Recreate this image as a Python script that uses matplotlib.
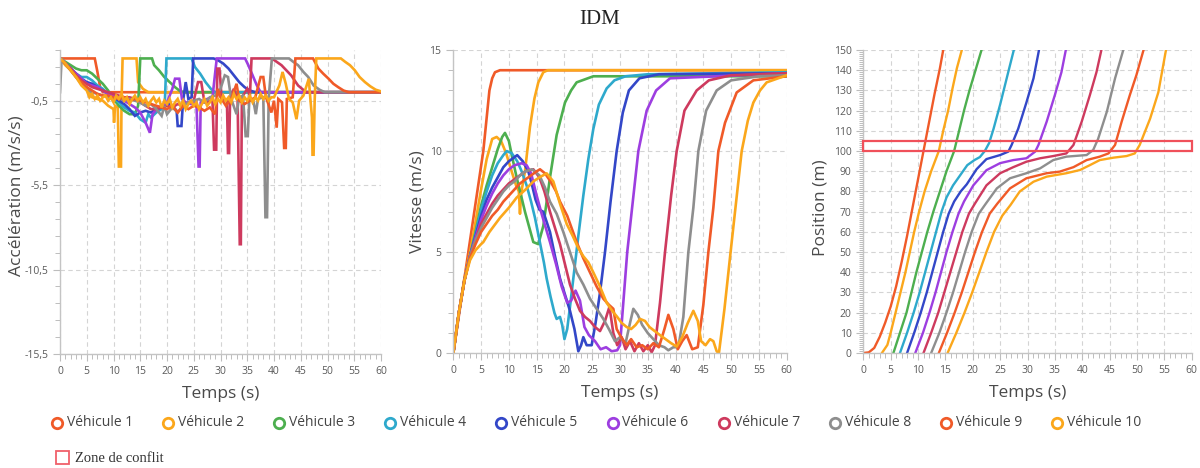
import matplotlib
matplotlib.use("Agg")
import matplotlib.pyplot as plt
from matplotlib.ticker import MultipleLocator, FuncFormatter
from matplotlib.patches import Rectangle

plt.rcParams['font.family'] = ['Open Sans', 'DejaVu Sans']

# ---------------- data ----------------
vehicles = ["Véhicule 1", "Véhicule 2", "Véhicule 3", "Véhicule 4", "Véhicule 5",
            "Véhicule 6", "Véhicule 7", "Véhicule 8", "Véhicule 9", "Véhicule 10"]
colors = ['#F05A28', '#FBA71B', '#4DAF4F', '#2EA9CC', '#3347C8',
          '#9D3EE0', '#CE3A5E', '#8E8E8E', '#F05A28', '#FBA71B']

# Acceleration (m/s/s)
acc_t1 = [0, 6.5, 7.0, 7.5, 8.0, 60]
acc_a1 = [2, 2, 1.2, 0.3, 0, 0]
acc_t2 = [0, 1, 2, 3, 4, 5, 6, 7, 8, 9, 10, 10.1, 10.3, 10.8, 11.0, 11.4, 11.5, 11.7, 14.3, 14.6, 15.5, 16.5, 60]
acc_a2 = [2, 1.6, 1.3, 0.9, 0.5, 0.3, -0.3, -0.4, -0.5, -0.8, -1.0, -1.8, -0.8, -0.9, -4.4, -4.4, -0.5, 2, 2, 0.6, 0.2, 0, 0]
acc_t3 = [0, 1, 2, 3, 4, 5, 6, 7, 8, 9, 10, 11, 12, 13, 14, 14.6, 15, 17.2, 17.6, 18.5, 19.5, 20.5, 21.5, 22.5, 23.5, 60]
acc_a3 = [2, 1.8, 1.6, 1.4, 1.3, 1.3, 1.1, 0.8, 0.5, 0.1, -0.4, -0.8, -1.1, -1.3, -1.3, -0.8, 2, 2, 1.6, 1.3, 0.9, 0.6, 0.3, 0.05, 0, 0]
acc_t4 = [0, 1, 2, 3, 4, 5, 6, 7, 8, 9, 10, 11, 12, 13, 14, 15, 16, 16.5, 17, 18, 19, 19.6, 19.9, 24.6, 25.2, 26.2, 27.2, 28.2, 29, 60]
acc_a4 = [2, 1.7, 1.4, 1.1, 0.9, 0.9, 0.7, 0.4, 0.2, -0.1, -0.3, -0.6, -0.9, -1.1, -1.2, -1.6, -1.8, -1.3, -1.5, -1.2, -1.0, -0.6, 2, 2, 1.5, 1.1, 0.6, 0.2, 0, 0]
acc_t5 = [0, 1, 2, 3, 4, 5, 6, 7, 8, 9, 10, 11, 12, 13, 14, 15, 16, 17, 18, 19, 20, 21, 21.8, 22.0, 22.7, 23.0, 23.5, 24, 24.6, 24.9,
          28.7, 29.5, 30.5, 31.5, 32.5, 33.5, 34.5, 35.5, 36.5, 60]
acc_a5 = [2, 1.7, 1.4, 1.1, 0.8, 0.6, 0.5, 0.3, 0.1, -0.1, -0.3, -0.5, -0.7, -1.0, -1.4, -1.2, -1.1, -1.2, -1.0, -0.9, -0.6, -0.8, -1.1, -2.0, -2.0, -0.5, 0.6, -0.4, -0.3, 2,
          2, 1.9, 1.7, 1.4, 1.0, 0.6, 0.3, 0.1, 0, 0]
acc_t6 = [0, 1, 2, 3, 4, 5, 6, 7, 8, 9, 10, 11, 12, 13, 14, 15, 16, 16.8, 17.3, 18, 19, 20, 21, 21.5, 22.3, 22.8, 23.5, 24.5, 25.5,
          25.9, 26.1, 26.3, 27.5, 28.5, 29.3, 34.6, 35.2, 36, 36.8, 37.5, 60]
acc_a6 = [2, 1.7, 1.4, 1.1, 0.8, 0.5, 0.4, 0.3, 0.1, -0.1, -0.2, -0.3, -0.5, -0.7, -0.9, -1.2, -1.8, -2.4, -1.3, -1.0, -0.8, -0.6, 0.2, 0.8, 0.8, -0.4, -0.6, -0.7, -0.6,
          -4.4, -4.4, -0.6, -0.4, -0.3, 2, 2, 1.6, 1.0, 0.4, 0, 0]
acc_t7 = [0, 1, 2, 3, 4, 5, 6, 7, 8, 9, 10, 11, 12, 13, 14, 15, 16, 17, 18, 19, 20, 21, 22, 23, 24, 25, 25.8, 26.4, 27, 28.5,
          28.8, 29.2, 29.4, 29.8, 30.2, 31.2, 31.4, 31.6, 31.8, 32.5, 33.2, 33.6, 33.8, 34.0, 35.0, 35.5, 35.8, 39.6,
          40.5, 41.4, 42.3, 43.2, 44.5, 46, 60]
acc_a7 = [2, 1.7, 1.4, 1.0, 0.7, 0.5, 0.3, 0.2, 0.1, 0.0, -0.1, -0.2, -0.3, -0.3, -0.4, -0.6, -0.8, -1.0, -1.0, -0.9, -0.8, -0.9, -0.7, -0.8, -0.6, -0.5, 0.6, 0.6, -0.6, -0.5,
          -3.4, -3.4, 1.4, 1.4, -0.3, -0.5, -3.6, -3.6, -0.3, 0.2, -0.5, -9.0, -9.0, -0.3, 0.2, -0.2, 2, 2,
          1.8, 1.6, 1.3, 1.0, 0.4, 0, 0]
acc_t8 = [0, 0.3, 1, 2, 3, 4, 5, 6, 7, 8, 9, 10, 11, 12, 13, 14, 15, 16, 17, 18, 19, 19.5, 20, 21, 22, 23, 24, 25, 26, 27, 28, 29, 30,
          30.8, 31.4, 32, 33, 33.5, 34.2, 34.7, 35.1, 35.4, 36.2, 36.6, 37, 38.0, 38.4, 38.7, 39.0, 39.6, 42.8,
          43.6, 44.5, 45.5, 46.4, 47.4, 48.5, 49.5, 60]
acc_a8 = [0, 2, 1.7, 1.3, 0.9, 0.5, 0.2, 0.0, -0.1, -0.2, -0.3, -0.4, -0.3, -0.5, -0.4, -0.5, -0.6, -0.8, -0.7, -1.0, -1.4, -0.8, -1.3, -0.9, -1.2, -0.8, -0.6, -0.5, -0.4, -0.6, -0.3, -0.2, 0.2,
          1.0, 0.9, -0.4, -1.3, -0.3, -0.2, -2.6, -2.6, -0.3, -0.6, -1.3, -0.4, -0.3, -7.4, -7.4, -0.4, 2, 2,
          1.8, 1.6, 1.2, 0.9, 0.4, 0.15, 0, 0]
acc_t9 = [0, 1, 2, 3, 4, 5, 6, 7, 8, 9, 10, 11, 12, 13, 14, 15, 16, 17, 18, 19, 20, 21, 22, 23, 24, 25, 26, 27, 28, 29, 29.5, 30,
          31, 32, 33, 33.5, 34.5, 35.5, 36.5, 37.5, 38, 38.5, 39.5, 40.0, 40.5, 40.8, 41.5, 41.9, 42.2, 42.4, 43.5,
          44, 47.3, 48.3, 49.2, 50.2, 51.1, 52, 53, 54, 60]
acc_a9 = [2, 1.7, 1.3, 0.9, 0.6, 0.3, 0.1, -0.1, -0.2, -0.2, -0.3, -0.4, -0.3, -0.5, -0.4, -0.5, -0.6, -0.7, -0.8, -0.9, -1.0, -0.8, -1.2, -0.8, -1.0, -0.8, -0.9, -1.1, -0.9, -1.3, 0.2, -0.3,
          -0.8, -0.4, 0.5, -0.5, -0.7, -0.5, -0.3, 0.9, 0.9, -0.3, -1.2, -0.5, -2.1, -0.4, -0.6, -3.3, -3.3, -0.4, -0.3,
          2, 2, 1.4, 1.1, 0.8, 0.5, 0.3, 0.1, 0, 0]
acc_t10 = [0, 1, 2, 3, 4,
           5, 5.5, 6, 6.5, 7, 7.5, 8, 8.5, 9, 9.5, 10, 10.5, 11, 11.5, 12, 12.5, 13, 13.5, 14, 14.5,
           15, 15.5, 16, 16.5, 17, 17.5, 18, 18.5, 19, 19.5, 20, 20.5, 21, 21.5, 22, 22.5, 23, 23.5, 24, 24.5,
           25, 25.5, 26, 26.5, 27, 27.5, 28, 28.5, 29, 29.5, 30, 30.5, 31, 31.5, 32, 32.5, 33, 33.5, 34, 34.5,
           35, 35.5, 36, 36.5, 37, 37.5, 38, 38.5, 39, 39.5, 40,
           41, 41.6, 42.2, 42.8, 43.5, 44.2, 44.7, 45.5, 46.5, 46.8, 47.1,
           47.2, 47.4, 47.6, 47.9, 52.5, 53.3, 54.2, 55.1, 56, 57, 58, 59, 60]
acc_a10 = [2, 1.7, 1.3, 0.9, 0.4,
           0.1, -0.3, -0.1, -0.4, -0.2, -0.5, -0.3, -0.2, -0.5, -0.3, -0.6, -0.2, -0.4, -0.1, -0.5, -0.3, -0.7, -0.4, -0.2, -0.5,
           -0.3, -0.6, -0.4, -0.8, -0.5, -0.3, -0.6, -0.4, -0.9, -0.5, -0.7, -0.4, -0.9, -0.6, -0.4, -0.8, -0.5, -1.0, -0.7, -0.5,
           -0.8, -0.6, -1.0, -0.7, -0.4, -0.8, -0.6, -0.3, -0.7, -0.4, -0.6, -0.2, -0.5, -0.3, -0.6, -0.1, -0.4, -0.2, -0.6, -0.3,
           -0.5, -0.2, -0.6, -0.3, -0.5, -0.1, -0.4, -0.2, -0.5, -0.3, -0.3,
           0.4, 1.2, 0.5, -0.4, -0.6, -1.6, -0.5, -0.2, 0.8, -0.4, -1.5,
           -3.7, -3.7, -0.5, 2, 2, 1.8, 1.6, 1.3, 0.9, 0.6, 0.35, 0.15, 0.05]

# Speed (m/s)
vit_t1 = [0, 2.7, 5.4, 6.5, 7.0, 7.5, 8.4, 60]
vit_v1 = [0, 5.0, 10.0, 13.0, 13.6, 13.9, 14.0, 14.0]
vit_t2 = [0, 1, 2, 3, 4, 5, 6, 7, 7.8, 8.6, 9.5, 10.5, 11.3, 11.8, 12.0, 12.2, 12.9, 13.8, 14.6, 15.3, 16.2, 17.0, 60]
vit_v2 = [0, 2.0, 3.7, 5.0, 6.5, 8.1, 9.6, 10.6, 10.7, 10.5, 9.9, 9.0, 8.3, 8.0, 6.9, 7.9, 9.0, 11.2, 12.6, 13.4, 13.9, 14.0, 14.0]
vit_t3 = [0, 1, 2, 3, 4, 5, 6, 7, 8, 8.8, 9.3, 10.0, 10.6, 11.4, 12.2, 12.9, 13.7, 14.4, 15.3, 16.2, 17.4, 18.6, 20.1, 21.2, 22.2, 25.2, 60]
vit_v3 = [0, 2.0, 3.6, 4.8, 6.0, 7.3, 8.3, 9.2, 10.1, 10.7, 10.9, 10.5, 9.7, 8.7, 7.8, 7.0, 6.2, 5.5, 5.4, 6.3, 8.7, 10.8, 12.4, 13.0, 13.4, 13.7, 13.7]
vit_t4 = [0, 1, 2, 3, 4, 5, 6, 7, 8, 9, 9.6, 10.5, 11.5, 12.3, 13.2, 14.0, 14.7, 15.5, 16.3, 16.8, 17.5, 18.2, 18.6, 19.2, 19.6,
          20.0, 20.5, 21.0, 21.6, 22.5, 23.4, 24.3, 25.2, 26.2, 27.6, 29, 31, 35, 60]
vit_v4 = [0, 2.0, 3.6, 4.8, 5.9, 7.1, 8.0, 8.8, 9.4, 9.8, 10.0, 9.9, 9.5, 9.0, 8.3, 7.5, 6.7, 5.6, 4.5, 3.7, 2.8, 2.0, 1.7, 1.8, 1.4,
          0.7, 1.2, 2.3, 3.7, 5.8, 7.8, 9.6, 11.1, 12.3, 13.1, 13.5, 13.7, 13.8, 13.9]
vit_t5 = [0, 1, 2, 3, 4, 5, 6, 7, 8, 9, 10, 11, 11.5, 12.5, 13.5, 14.1, 14.8, 15.5, 16.2, 17.4, 18.3, 19.2, 20.1, 21.0, 21.8, 22.5,
          23.0, 23.4, 24.0, 24.9, 25.6, 26.4, 27.3, 28.3, 29.4, 30.5, 31.6, 33.5, 37, 60]
vit_v5 = [0, 2.0, 3.6, 4.8, 5.8, 6.8, 7.6, 8.2, 8.7, 9.2, 9.5, 9.7, 9.8, 9.5, 9.0, 8.4, 7.6, 7.1, 7.0, 6.0, 4.8, 3.7, 2.9, 2.1, 1.2, 0.1,
          0.4, 0.8, 0.4, 0.4, 1.5, 3.0, 5.0, 7.5, 10.0, 11.9, 13.0, 13.6, 13.8, 13.85]
vit_t6 = [0, 1, 2, 3, 4, 5, 6, 7, 8, 9, 10, 11, 12.3, 13.2, 14.0, 15.0, 16.0, 17.4, 18.5, 19.5, 20.5, 21.2, 22.0, 22.8, 23.6, 24.4,
          25.5, 26.5, 27.5, 28.5, 29.5, 30.0, 31.3, 33.3, 34.8, 36.5, 39, 60]
vit_v6 = [0, 2.0, 3.6, 4.8, 5.7, 6.6, 7.3, 7.9, 8.4, 8.8, 9.1, 9.3, 9.4, 9.3, 8.9, 7.8, 6.8, 5.5, 4.4, 3.3, 2.5, 2.6, 3.1, 2.6, 1.3, 0.9,
          0.6, 0.2, 0.3, 0.1, 0.15, 0.4, 5.0, 10.0, 12.0, 13.0, 13.6, 13.85]
vit_t7 = [0, 1, 2, 3, 4, 5, 6, 7, 8, 9, 10, 11, 12, 13, 14.4, 15.5, 16.4, 17.4, 18.3, 19.2, 20.1, 21.0, 21.9, 22.8, 23.7, 24.6,
          25.5, 26.4, 27.3, 28.1, 28.8, 29.5, 30.3, 31.0, 31.8, 32.6, 33.4, 34.2, 35.0, 35.7, 36.3, 37.2, 38.1, 39.2,
          40.2, 41.6, 43.8, 46, 50, 60]
vit_v7 = [0, 2.0, 3.6, 4.8, 5.6, 6.4, 6.9, 7.4, 7.8, 8.1, 8.4, 8.6, 8.8, 9.0, 9.1, 8.7, 8.0, 7.0, 6.2, 5.4, 4.4, 3.4, 2.7, 2.1, 1.8, 1.6,
          1.3, 1.1, 1.6, 2.3, 1.0, 0.4, 0.8, 0.2, 0.6, 0.1, 0.5, 0.1, 0.4, 0.05, 0.4, 2.5, 5.0, 7.8,
          10.0, 12.0, 13.0, 13.5, 13.75, 13.85]
vit_t8 = [0, 1, 2, 3, 4, 5, 6, 7, 8, 9, 10, 11, 12, 13, 14.2, 15.5, 16.5, 17.4, 18.6, 19.8, 21.0, 22.2, 23.4, 24.6, 25.8, 27.0,
          28.0, 29.1, 30.0, 31.0, 31.8, 32.4, 33.2, 34.0, 35.0, 36.0, 37.0, 38.0, 38.7, 39.6, 40.5, 41.4, 42.3, 43.2,
          44.1, 45.5, 47.4, 50, 55, 60]
vit_v8 = [0, 2.0, 3.6, 4.8, 5.6, 6.2, 6.7, 7.2, 7.6, 8.0, 8.3, 8.5, 8.8, 9.0, 9.1, 8.8, 8.2, 7.5, 6.9, 6.0, 5.0, 4.0, 3.4, 2.7, 2.2, 1.7,
          1.2, 0.6, 0.8, 0.5, 1.5, 2.2, 1.9, 1.4, 1.0, 0.7, 0.4, 0.3, 0.15, 0.3, 0.3, 1.8, 5.0, 7.2,
          10.0, 12.0, 13.0, 13.5, 13.7, 13.75]
vit_t9 = [0, 1, 2, 3, 4, 5, 6, 7, 8, 9, 10, 11, 12, 13, 14, 15, 15.6, 16.5, 17.5, 18.5, 19.2, 20.5, 22.2, 23.4, 24.6, 25.8, 27.0,
          28.0, 28.8, 29.4, 30.2, 31.2, 32.0, 33.0, 34.0, 35.0, 36.0, 37.0, 38.0, 38.7, 39.6, 40.4, 41.2, 42.0, 43.0,
          44.0, 45.0, 45.9, 46.8, 47.7, 48.9, 51, 54, 60]
vit_v9 = [0, 2.0, 3.6, 4.7, 5.4, 6.0, 6.4, 6.8, 7.1, 7.5, 7.8, 8.1, 8.4, 8.6, 8.8, 9.0, 9.1, 8.9, 8.5, 8.0, 7.5, 6.8, 5.5, 4.7, 4.0, 3.3, 2.7,
          2.4, 2.2, 1.2, 0.8, 0.4, 0.7, 0.3, 0.4, 0.2, 0.5, 0.3, 1.2, 1.9, 1.2, 0.2, 0.6, 0.9, 0.2,
          0.3, 2.4, 5.0, 7.2, 10.0, 11.4, 12.9, 13.5, 13.7]
vit_t10 = [0, 1, 2, 3, 4, 5, 5.4, 6.5, 8.4, 10, 11.4, 13, 14.4, 15.5, 16.8, 18, 19.2, 20.4, 21.5, 22.5, 23.4, 24.3, 25.2, 26.4,
           27.6, 28.6, 29.5, 30.3, 31.2, 32.0, 32.8, 33.6, 34.5, 35.3, 36.0, 37.2, 38.4, 39.2, 40.2, 41.2, 42.2, 43.2,
           44.0, 44.6, 45.4, 46.2, 46.8, 47.4, 47.8, 48.8, 49.9, 50.9, 51.9, 53, 54, 55.2, 56.4, 60]
vit_v10 = [0, 2.0, 3.6, 4.6, 5.1, 5.4, 5.5, 6.0, 6.7, 7.2, 7.7, 8.1, 8.5, 8.7, 8.9, 8.5, 7.4, 6.4, 5.8, 5.2, 4.8, 4.5, 4.0, 3.3,
           2.5, 2.1, 1.8, 1.5, 1.3, 1.2, 1.4, 1.7, 1.6, 1.3, 1.15, 0.9, 0.66, 0.5, 0.33, 0.8, 1.5, 2.1,
           1.6, 0.6, 0.4, 0.7, 0.6, 0.1, 0.0, 2.2, 5.0, 7.5, 10.0, 11.5, 12.4, 13.0, 13.4, 13.75]

# Position (m)
pos_t1 = [0, 1.0, 2.0, 3.0, 4.0, 5.0, 6.0, 7.0, 8.0, 9.0, 10.0, 11.0, 12.0, 13.0, 14.0, 14.6]
pos_x1 = [0, 0.3, 2.5, 8, 15, 23, 33, 45, 58, 72, 86, 100, 114, 128, 141, 150]
pos_t2 = [3.4, 4.4, 5.0, 5.9, 6.8, 7.7, 8.5, 9.3, 10.2, 11.2, 12.4, 13.8, 14.6, 15.5, 16.3, 17.1, 18.0]
pos_x2 = [0, 4, 10, 20, 30, 40, 50, 60, 70, 80, 90, 100, 110, 120, 131, 141, 150]
pos_t3 = [5.5, 6.7, 7.9, 8.8, 9.7, 10.7, 11.7, 12.8, 14.0, 15.2, 16.6, 17.5, 18.4, 19.4, 20.5, 21.6]
pos_x3 = [0, 10, 20, 30, 40, 50, 60, 70, 80, 90, 100, 110, 120, 130, 140, 150]
pos_t4 = [6.7, 8.0, 9.2, 10.3, 11.3, 12.3, 13.3, 14.3, 15.2, 16.4, 17.7, 19.0, 20.3, 21.3, 22.2, 23.0, 23.8, 25.0, 26.2, 27.5]
pos_x4 = [0, 10, 20, 30, 40, 50, 60, 70, 77, 83, 88, 93, 95.5, 97, 100, 104, 111, 123, 136, 150]
pos_t5 = [8.0, 9.3, 10.5, 11.6, 12.6, 13.6, 14.6, 15.6, 16.6, 17.8, 18.9, 20.7, 22.5, 25.0, 26.5, 27.1, 28.3, 29.8, 31.1, 32.1]
pos_x5 = [0, 10, 20, 30, 40, 50, 60, 69, 75, 80, 83.5, 91, 96, 98, 99.7, 103, 111, 124, 136, 150]
pos_t6 = [9.5, 10.9, 12.1, 13.2, 14.2, 15.2, 16.3, 17.4, 18.4, 20.1, 22.5, 25.0, 27.4, 29.8, 31.4, 32.0, 33.5, 35.0, 36.2, 37.0]
pos_x6 = [0, 10, 20, 30, 40, 50, 60, 69, 75, 83, 90.5, 94, 95.5, 96.4, 99.7, 103, 114.5, 127.7, 139, 150]
pos_t7 = [11.0, 12.4, 13.7, 14.8, 15.9, 17.0, 18.1, 19.3, 20.4, 22.5, 25.0, 27.4, 29.8, 32.3, 34.7, 37.1, 38.4, 39.9, 41.4, 42.6, 43.5]
pos_x7 = [0, 10, 20, 30, 40, 50, 60, 69, 74, 83, 89, 92, 94.7, 96.4, 97.5, 98.8, 103, 114.5, 127.7, 139, 150]
pos_t8 = [12.4, 13.9, 15.2, 16.4, 17.5, 18.6, 19.8, 21.1, 22.4, 24.4, 26.8, 29.8, 32.3, 34.7, 37.1, 40.8, 42.0, 42.9, 44.5, 46.0, 47.5]
pos_x8 = [0, 10, 20, 30, 40, 50, 60, 69, 74, 81.5, 86.5, 89, 91.4, 95.5, 97.2, 98, 100.5, 106, 119.5, 136, 150]
pos_t9 = [13.8, 15.3, 16.7, 18.0, 19.2, 20.4, 21.7, 23.1, 24.5, 26.8, 29.8, 33.5, 35.9, 38.4, 40.8, 43.2, 44.8, 46.0, 47.2, 48.7, 49.9, 51.2]
pos_x9 = [0, 10, 20, 30, 40, 50, 60, 69, 74, 81.5, 86.5, 89, 89.8, 92, 95.5, 97.2, 98.8, 103, 114.5, 127.7, 137.6, 150]
pos_t10 = [15.4, 17.0, 18.5, 19.9, 21.2, 22.5, 23.9, 25.4, 26.9, 28.6, 31.1, 33.5, 37.1, 39.6, 41.4, 43.2, 45.7, 48.1, 49.6, 50.5, 52.4, 53.9, 55.3]
pos_x10 = [0, 10, 20, 30, 40, 50, 60, 68, 73.3, 80, 84.8, 87.3, 89, 90.6, 93, 95.5, 96.7, 97.5, 98.8, 103, 116, 129, 150]

zone_start, zone_end = 100, 105

acc_series = [(acc_t1, acc_a1), (acc_t2, acc_a2), (acc_t3, acc_a3), (acc_t4, acc_a4), (acc_t5, acc_a5),
              (acc_t6, acc_a6), (acc_t7, acc_a7), (acc_t8, acc_a8), (acc_t9, acc_a9), (acc_t10, acc_a10)]
vit_series = [(vit_t1, vit_v1), (vit_t2, vit_v2), (vit_t3, vit_v3), (vit_t4, vit_v4), (vit_t5, vit_v5),
              (vit_t6, vit_v6), (vit_t7, vit_v7), (vit_t8, vit_v8), (vit_t9, vit_v9), (vit_t10, vit_v10)]
pos_series = [(pos_t1, pos_x1), (pos_t2, pos_x2), (pos_t3, pos_x3), (pos_t4, pos_x4), (pos_t5, pos_x5),
              (pos_t6, pos_x6), (pos_t7, pos_x7), (pos_t8, pos_x8), (pos_t9, pos_x9), (pos_t10, pos_x10)]

# ---------------- figure ----------------
W, H = 1200, 468
fig = plt.figure(figsize=(W / 100, H / 100), dpi=100)

legax = fig.add_axes([0, 0, 1, 1])
legax.set_xlim(0, W)
legax.set_ylim(H, 0)
legax.axis('off')

ax1 = fig.add_axes([60 / W, 1 - 354 / H, 321 / W, 304 / H])
ax2 = fig.add_axes([453.3 / W, 1 - 353.3 / H, 333.4 / W, 303.3 / H])
ax3 = fig.add_axes([863.3 / W, 1 - 353 / H, 328.4 / W, 303 / H])

grid_kw = dict(color='#d4d4d4', linestyle=(0, (4, 3)), linewidth=0.8)
label_color = '#4a4a4a'
tick_color = '#5a5a5a'
LW = 1.9

for ax in (ax1, ax2, ax3):
    ax.set_xlim(0, 60)
    ax.xaxis.set_major_locator(MultipleLocator(5))
    ax.xaxis.set_minor_locator(MultipleLocator(1))
    for s in ('top', 'right'):
        ax.spines[s].set_visible(False)
    for s in ('left', 'bottom'):
        ax.spines[s].set_color('#c4c4c4')
        ax.spines[s].set_linewidth(1.0)
    ax.tick_params(which='both', colors='#bdbdbd', labelcolor=tick_color, labelsize=7.5, direction='out')
    ax.tick_params(which='major', length=5, width=0.8)
    ax.tick_params(which='minor', length=3.5, width=0.7)
    ax.grid(True, which='major', **grid_kw)
    ax.set_axisbelow(True)
    ax.set_xlabel('Temps (s)', fontsize=12.5, color=label_color)
    ax.xaxis.set_label_coords(0.5, -0.105)

# Acceleration
for (t, a), c in zip(acc_series, colors):
    ax1.plot(t, a, color=c, lw=LW, solid_joinstyle='miter')
ax1.set_ylim(-15.5, 2.5)
ax1.set_yticks([-15.5, -10.5, -5.5, -0.5])
ax1.yaxis.set_minor_locator(MultipleLocator(1, offset=0.5))
ax1.yaxis.set_major_formatter(FuncFormatter(lambda v, p: f"{v:.1f}".replace('.', ',')))
ax1.set_ylabel('Accélération (m/s/s)', fontsize=12.5, color=label_color)
ax1.yaxis.set_label_coords(-0.11, 0.52)

# Speed
for (t, v), c in zip(vit_series, colors):
    ax2.plot(t, v, color=c, lw=LW)
ax2.set_ylim(0, 15)
ax2.yaxis.set_major_locator(MultipleLocator(5))
ax2.yaxis.set_minor_locator(MultipleLocator(1))
ax2.set_ylabel('Vitesse (m/s)', fontsize=12.5, color=label_color)
ax2.yaxis.set_label_coords(-0.082, 0.5)

# Position
for (t, x), c in zip(pos_series, colors):
    ax3.plot(t, x, color=c, lw=LW - 0.2)
ax3.add_patch(Rectangle((0, zone_start), 60, zone_end - zone_start, fill=False,
                        edgecolor='#F0505A', linewidth=1.6, zorder=5, clip_on=False))
ax3.set_ylim(0, 150)
ax3.yaxis.set_major_locator(MultipleLocator(10))
ax3.yaxis.set_minor_locator(MultipleLocator(1))
ax3.tick_params(axis='y', which='minor', length=3)
ax3.set_ylabel('Position (m)', fontsize=12.5, color=label_color)
ax3.yaxis.set_label_coords(-0.105, 0.48)

# Title
fig.text(0.5, 1 - 20 / H, 'IDM', ha='center', va='center', fontsize=15,
         family=['Liberation Serif', 'DejaVu Serif'], color='#222222')

# Legend (manual, one row)
leg_x0, leg_dx, leg_y = 57, 111.1, 423
for i, (name, c) in enumerate(zip(vehicles, colors)):
    x = leg_x0 + i * leg_dx
    legax.plot([x], [leg_y], marker='o', ms=7.5, mfc='white', mec=c, mew=2.0, ls='none')
    legax.text(x + 10, leg_y, name, ha='left', va='center', fontsize=10, color='#444444')
legax.add_patch(Rectangle((55.5, 451), 13, 13, fill=False, edgecolor='#F0606A', linewidth=1.3))
legax.text(75, 458, 'Zone de conflit', ha='left', va='center', fontsize=10.5,
           family=['Liberation Serif', 'DejaVu Serif'], color='#333333')

fig.savefig('out.png', dpi=100)
